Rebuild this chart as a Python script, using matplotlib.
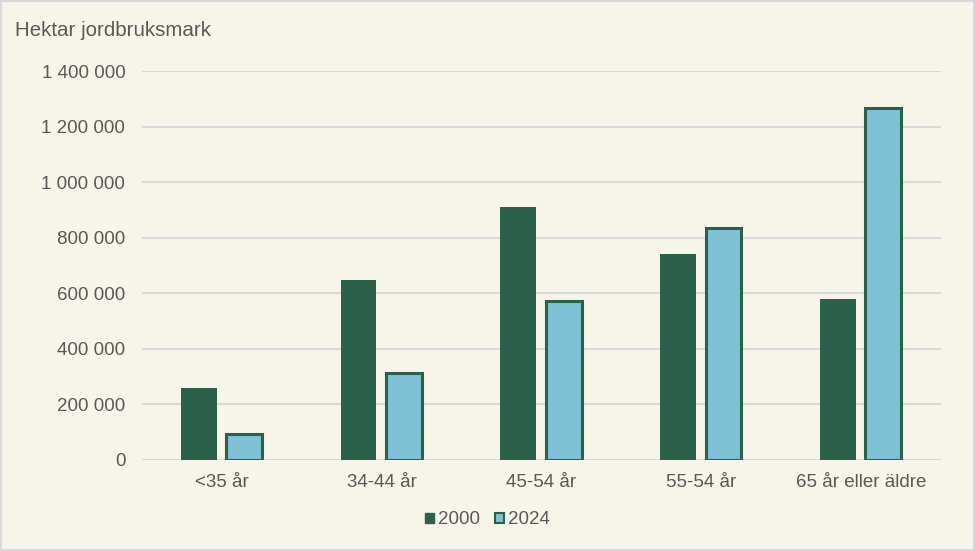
#!/usr/bin/env python3
import matplotlib
matplotlib.use("Agg")
import matplotlib.pyplot as plt
from matplotlib.patches import Rectangle, Patch
from matplotlib.ticker import FuncFormatter
import numpy as np

plt.rcParams['font.family'] = ['Liberation Sans', 'DejaVu Sans']

# Hektar jordbruksmark per ålder
categories = ["<35 år", "34-44 år", "45-54 år", "55-54 år", "65 år eller äldre"]
values_2000 = [259000, 648000, 910000, 741000, 579000]
values_2024 = [93000, 313000, 572000, 835000, 1267000]
series_names = ["2000", "2024"]

dark_green = '#2B614A'
light_blue = '#7FC1D5'
bg = '#F7F5EA'
grid_col = '#D9D9D9'
text_col = '#595959'

fig = plt.figure(figsize=(9.75, 5.51), dpi=100, facecolor=bg)
ax = fig.add_axes([0.1456, 0.1652, 0.8195, 0.7059])
ax.set_facecolor(bg)

x = np.arange(len(categories))
w = 0.225
ax.bar(x - 0.145, values_2000, width=w, color=dark_green, zorder=3)
ax.bar(x + 0.139, values_2024, width=w, color=light_blue,
       edgecolor=dark_green, linewidth=2.2, zorder=3)

ax.set_xlim(-0.5, len(categories) - 0.5)
ax.set_ylim(0, 1400000)
ax.set_yticks(np.arange(0, 1400001, 200000))
ax.yaxis.set_major_formatter(FuncFormatter(lambda v, p: f"{int(v):,}".replace(",", " ")))
ax.set_xticks(x)
ax.set_xticklabels(categories)

ax.grid(axis='y', color=grid_col, linewidth=1.5, zorder=0)
ax.set_axisbelow(True)
for s in ax.spines.values():
    s.set_visible(False)
ax.tick_params(axis='both', length=0, colors=text_col, labelsize=13.5)
ax.tick_params(axis='y', pad=12)
ax.tick_params(axis='x', pad=10)

fig.text(15 / 975, 1 - 30 / 551, "Hektar jordbruksmark", fontsize=14.8,
         color=text_col, va='center', ha='left')

handles = [Patch(facecolor=dark_green, edgecolor=dark_green),
           Patch(facecolor=light_blue, edgecolor=dark_green, linewidth=1.5)]
fig.legend(handles, series_names, loc='center', bbox_to_anchor=(0.5, 1 - 520 / 551),
           ncol=2, frameon=False, fontsize=13.5, labelcolor=text_col,
           handlelength=0.5, handleheight=0.5, handletextpad=0.2, columnspacing=0.8)

fig.patches.append(Rectangle((0, 0), 1, 1, transform=fig.transFigure, fill=False,
                             edgecolor=grid_col, linewidth=3))

plt.savefig('out.png', dpi=100, facecolor=bg)
